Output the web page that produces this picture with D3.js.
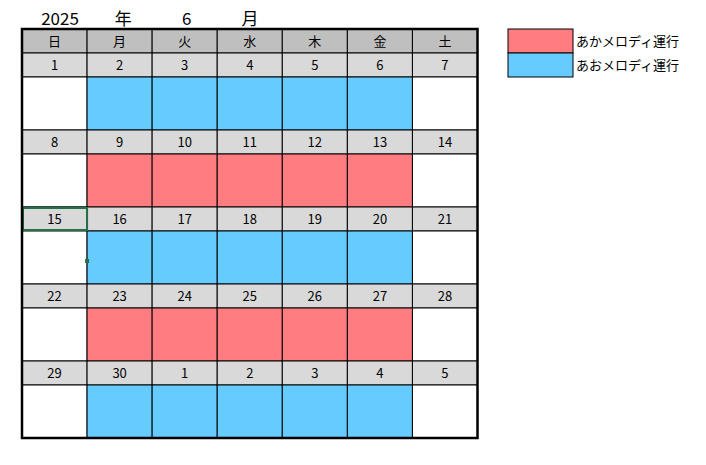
<!DOCTYPE html>
<html><head><meta charset="utf-8">
<script src="https://cdn.jsdelivr.net/npm/d3@7"></script>
<style>body{margin:0;background:#fff}text{font-family:"Noto Sans CJK JP","Noto Sans",sans-serif}</style>
</head><body><svg id="c" width="706" height="465"></svg>
<script>
const weekdays = ['日', '月', '火', '水', '木', '金', '土']
const weeks = [
  [1, 2, 3, 4, 5, 6, 7],
  [8, 9, 10, 11, 12, 13, 14],
  [15, 16, 17, 18, 19, 20, 21],
  [22, 23, 24, 25, 26, 27, 28],
  [29, 30, 1, 2, 3, 4, 5],
]
// which melody runs each week (Mon-Fri)
const weekService = ['blue', 'red', 'blue', 'red', 'blue']
const legend = [
  { key: 'red', label: 'あかメロディ運行' },
  { key: 'blue', label: 'あおメロディ運行' },
]
const titleParts = ['2025', '年', '6', '月']

const COLORS = { red: '#ff7c80', blue: '#66ccff' }
const svg = d3.select('#c')

const x = d3.scaleBand().domain(d3.range(7)).range([22, 477.5])
const HEAD = 29, HEAD_H = 24, DATE_H = 24, CELL_H = 53
const weekY = d3.scaleLinear().domain([0, 1]).range([HEAD + HEAD_H, HEAD + HEAD_H + DATE_H + CELL_H])

// title
const tx = d3.scalePoint().domain(d3.range(titleParts.length)).range([60, 250])
svg.selectAll('text.title').data(titleParts).enter().append('text')
  .attr('x', (d, i) => tx(i) + (i === 0 ? 0 : 0))
  .attr('y', 25).attr('text-anchor', 'middle').attr('font-size', 17)
  .text(d => d)

// header row
const g = svg.append('g')
g.selectAll('rect.head').data(weekdays).enter().append('rect')
  .attr('x', (d, i) => x(i)).attr('y', HEAD).attr('width', x.bandwidth()).attr('height', HEAD_H)
  .attr('fill', '#bfbfbf').attr('stroke', '#000')
g.selectAll('text.head').data(weekdays).enter().append('text')
  .attr('x', (d, i) => x(i) + x.bandwidth() / 2).attr('y', HEAD + 17)
  .attr('text-anchor', 'middle').attr('font-size', 13).text(d => d)

weeks.forEach((wk, w) => {
  const y0 = weekY(w)
  const row = g.append('g')
  row.selectAll('rect.date').data(wk).enter().append('rect')
    .attr('x', (d, i) => x(i)).attr('y', y0).attr('width', x.bandwidth()).attr('height', DATE_H)
    .attr('fill', '#d9d9d9').attr('stroke', '#000')
  row.selectAll('text.date').data(wk).enter().append('text')
    .attr('x', (d, i) => x(i) + x.bandwidth() / 2).attr('y', y0 + 17)
    .attr('text-anchor', 'middle').attr('font-size', 13).text(d => d)
  row.selectAll('rect.cell').data(wk).enter().append('rect')
    .attr('x', (d, i) => x(i)).attr('y', y0 + DATE_H).attr('width', x.bandwidth()).attr('height', CELL_H)
    .attr('fill', (d, i) => (i > 0 && i < 6) ? COLORS[weekService[w]] : '#fff')
    .attr('stroke', '#000')
})

// selected cell (15)
svg.append('rect').attr('x', x(0) + 1).attr('y', weekY(2) + 1)
  .attr('width', x.bandwidth() - 1).attr('height', DATE_H - 2)
  .attr('fill', 'none').attr('stroke', '#217346').attr('stroke-width', 2)
svg.append('rect').attr('x', x(1) - 2).attr('y', weekY(3) - 25).attr('width', 4).attr('height', 4).attr('fill', '#217346')

// outer frame
svg.append('rect').attr('x', 22).attr('y', HEAD).attr('width', 455.5)
  .attr('height', weekY(weeks.length) - HEAD).attr('fill', 'none').attr('stroke', '#000').attr('stroke-width', 2.5)

// legend
const ly = d3.scaleBand().domain(legend.map(d => d.key)).range([29, 77])
svg.selectAll('rect.leg').data(legend).enter().append('rect')
  .attr('x', 508).attr('y', d => ly(d.key)).attr('width', 65).attr('height', ly.bandwidth())
  .attr('fill', d => COLORS[d.key]).attr('stroke', '#000')
svg.selectAll('text.leg').data(legend).enter().append('text')
  .attr('x', 576).attr('y', d => ly(d.key) + 17).attr('font-size', 13).text(d => d.label)
</script></body></html>
